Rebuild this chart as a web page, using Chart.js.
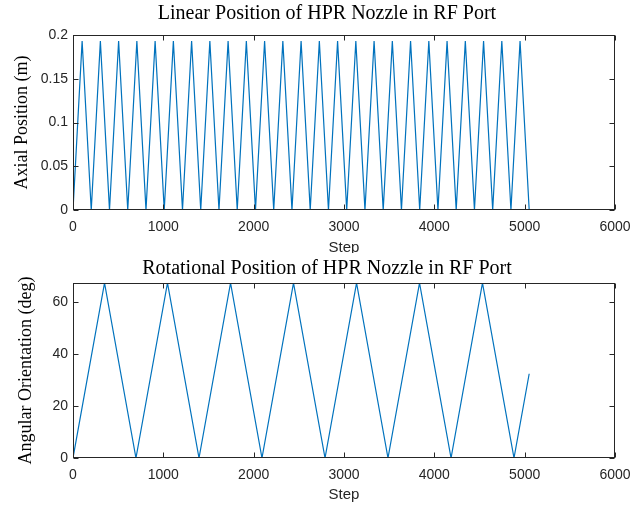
<!DOCTYPE html>
<html><head><meta charset="utf-8">
<script src="https://cdn.jsdelivr.net/npm/chart.js@4"></script>
<style>
html,body{margin:0;padding:0;background:#fff;}
#wrap{position:relative;width:641px;height:506px;overflow:hidden;background:#fff;}
#c1box{position:absolute;left:0;top:0;width:641px;height:265px;}
#c2box{position:absolute;left:0;top:253px;width:641px;height:253px;}
</style></head><body>
<div id="wrap">
<div id="c1box"><canvas id="c1"></canvas></div>
<div id="c2box"><canvas id="c2"></canvas></div>
</div>
<script>
// ---- data ----
const stepTicks = [0, 1000, 2000, 3000, 4000, 5000, 6000];
const axialTicks = [0, 0.05, 0.1, 0.15, 0.2];
const angleTicks = [0, 20, 40, 60];

const linearSteps = [0,101,202,303,404,505,606,707,808,909,1010,1111,1212,1313,1414,1515,1616,1717,1818,1919,2020,2121,2222,2323,2424,2525,2626,2727,2828,2929,3030,3131,3232,3333,3434,3535,3636,3737,3838,3939,4040,4141,4242,4343,4444,4545,4646,4747,4848,4949,5050];
const axialPos = [0,0.193,0,0.193,0,0.193,0,0.193,0,0.193,0,0.193,0,0.193,0,0.193,0,0.193,0,0.193,0,0.193,0,0.193,0,0.193,0,0.193,0,0.193,0,0.193,0,0.193,0,0.193,0,0.193,0,0.193,0,0.193,0,0.193,0,0.193,0,0.193,0,0.193,0];

const rotSteps = [0,349,697,1046,1395,1744,2092,2441,2790,3139,3487,3836,4185,4533,4882,5050];
const angleDeg = [0,67.5,0,67.5,0,67.5,0,67.5,0,67.5,0,67.5,0,67.5,0,32.5];

const titles = ['Linear Position of HPR Nozzle in RF Port', 'Rotational Position of HPR Nozzle in RF Port'];
const yTitles = ['Axial Position (m)', 'Angular Orientation (deg)'];
const xTitle = 'Step';

// ---- style ----
const LINE = '#0072BD';
const AX = '#262626';
const SERIF = "'Liberation Serif', 'Times New Roman', serif";
const SANS = "'Liberation Sans', Arial, sans-serif";

const framePlugin = {
  id: 'frame',
  beforeDraw(chart, args, opts) {
    if (opts && opts.bg) {
      const c = chart.ctx; c.save(); c.fillStyle = '#fff';
      c.fillRect(0, 0, chart.width, chart.height); c.restore();
    }
  },
  afterDatasetsDraw(chart) {
    const {ctx, chartArea: a, scales: {x, y}} = chart;
    ctx.save();
    ctx.strokeStyle = AX; ctx.lineWidth = 1;
    const L = Math.round(a.left) + 0.5, R = Math.round(a.right) - 0.5;
    const T = Math.round(a.top) + 0.5, B = Math.round(a.bottom) - 0.5;
    ctx.strokeRect(L, T, R - L, B - T);
    ctx.beginPath();
    const tl = 5;
    x.ticks.forEach(t => {
      const px = Math.round(x.getPixelForValue(t.value)) + 0.5;
      ctx.moveTo(px, B); ctx.lineTo(px, B - tl);
      ctx.moveTo(px, T); ctx.lineTo(px, T + tl);
    });
    y.ticks.forEach(t => {
      const py = Math.round(y.getPixelForValue(t.value)) + 0.5;
      ctx.moveTo(L, py); ctx.lineTo(L + tl, py);
      ctx.moveTo(R, py); ctx.lineTo(R - tl, py);
    });
    ctx.stroke();
    ctx.restore();
  }
};

function makeChart(id, xs, ys, yTickVals, yMax, cfg) {
  const pts = xs.map((v, i) => ({x: v, y: ys[i]}));
  return new Chart(document.getElementById(id), {
    type: 'line',
    data: { datasets: [{ data: pts, borderColor: LINE, borderWidth: 1.2, pointRadius: 0, tension: 0, fill: false }] },
    plugins: [framePlugin],
    options: {
      responsive: true, maintainAspectRatio: false, animation: false, devicePixelRatio: 1,
      layout: { padding: { left: 39, right: 26, top: 0, bottom: 0 } },
      plugins: {
        legend: { display: false }, tooltip: { enabled: false },
        frame: { bg: cfg.bg },
        title: { display: true, text: cfg.title, color: '#000',
          font: { family: SERIF, size: 20, weight: 'normal', lineHeight: 1.2 },
          padding: { top: cfg.titlePadTop, bottom: cfg.titlePadBottom } }
      },
      scales: {
        x: {
          type: 'linear', min: 0, max: 6000,
          afterBuildTicks: s => { s.ticks = stepTicks.map(v => ({value: v})); },
          afterFit: s => { s.height = cfg.xHeight; },
          grid: { display: false, drawTicks: false }, border: { display: false },
          ticks: { color: AX, font: { family: SANS, size: 14 }, padding: cfg.xTickPad, maxRotation: 0,
            callback: v => String(v) },
          title: { display: true, text: xTitle, color: AX, font: { family: SANS, size: 15, lineHeight: 1.2 },
            padding: { top: 0, bottom: cfg.xTitlePadBottom } }
        },
        y: {
          type: 'linear', min: 0, max: yMax,
          afterBuildTicks: s => { s.ticks = yTickVals.map(v => ({value: v})); },
          afterFit: s => { s.width = 34; },
          grid: { display: false, drawTicks: false }, border: { display: false },
          ticks: { color: AX, font: { family: SANS, size: 14 }, padding: 5,
            callback: v => String(v) },
          title: { display: true, text: cfg.yTitle, color: '#000', font: { family: SERIF, size: 18, lineHeight: 1.2 },
            padding: { top: cfg.yTitlePadTop, bottom: 0 } }
        }
      }
    }
  });
}

makeChart('c1', linearSteps, axialPos, axialTicks, 0.2, {
  bg: false, title: titles[0], titlePadTop: 2, titlePadBottom: 9,
  xHeight: 55, xTickPad: 8.5, xTitlePadBottom: 8.5,
  yTitle: yTitles[0], yTitlePadTop: -27.3
});
makeChart('c2', rotSteps, angleDeg, angleTicks, 67.5, {
  bg: true, title: titles[1], titlePadTop: 4, titlePadBottom: 2,
  xHeight: 48, xTickPad: 9, xTitlePadBottom: 2,
  yTitle: yTitles[1], yTitlePadTop: -23.3
});
</script>
</body></html>
